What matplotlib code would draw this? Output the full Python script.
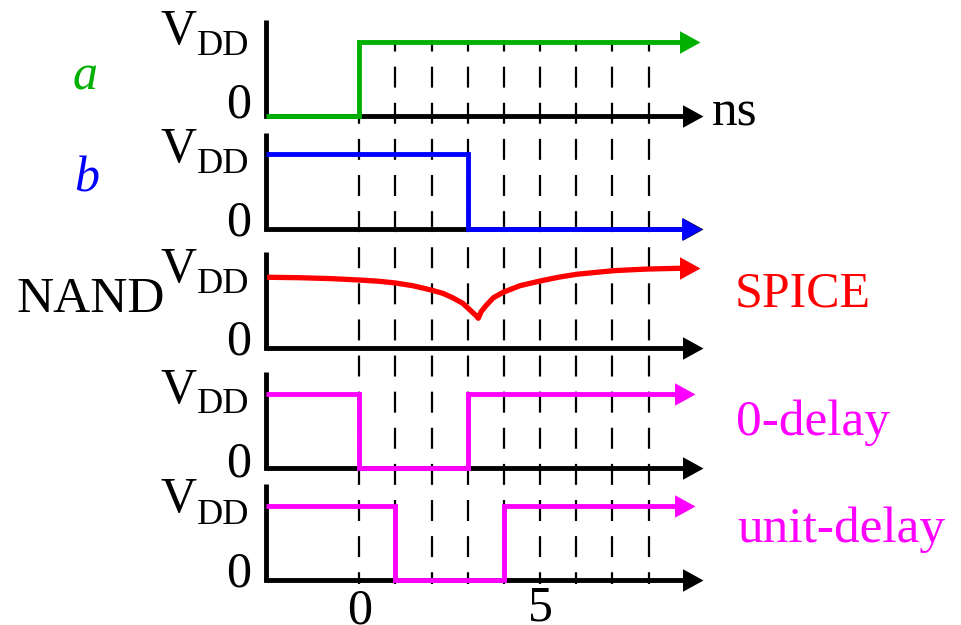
import matplotlib
matplotlib.use('Agg')
import matplotlib.pyplot as plt
from matplotlib.path import Path

plt.rcParams['font.family'] = ['Liberation Serif', 'DejaVu Serif']
plt.rcParams['lines.scale_dashes'] = False

# ---------------- data ----------------
grid_times = [0, 1, 2, 3, 4, 5, 6, 7, 8]
tick_values = [0, 5]
tick_labels = ['0', '5']
T_START = -2.59

a_switch = [0.0]
a_levels = [0, 1]
b_switch = [3.0]
b_levels = [1, 0]
zero_delay_switch = [0.0, 3.0]
zero_delay_levels = [1, 0, 1]
unit_delay_switch = [1.0, 4.0]
unit_delay_levels = [1, 0, 1]

spice_t = [-2.55, -1.66, -0.74, 0.0, 0.55, 1.0, 1.48, 1.98, 2.31, 2.58, 2.86,
           3.04, 3.23, 3.29, 3.37, 3.52, 3.71, 3.98, 4.44, 5.0, 5.55, 6.01,
           6.57, 7.02, 7.58, 7.99, 8.87, 9.42]
spice_v = [0.948, 0.942, 0.929, 0.911, 0.894, 0.871, 0.834, 0.777, 0.732, 0.673,
           0.598, 0.517, 0.431, 0.396, 0.485, 0.575, 0.673, 0.746, 0.834, 0.898,
           0.952, 0.988, 1.015, 1.036, 1.050, 1.059, 1.069, 1.069]

GREEN = '#00b000'
BLUE = '#0000ff'
RED = '#ff0000'
MAGENTA = '#ff00ff'

# ---------------- layout helpers ----------------
W, H = 961, 625
fig = plt.figure(figsize=(W / 100, H / 100), dpi=100)
fig.patch.set_facecolor('white')

PX_PER_NS = 36.16
X0_PX = 359.3
PX_PER_V = 74.3
Y_TOP = 1.29
X_MAX = 9.7

def fx(px):
    return px / W

def fy(py):
    return 1 - py / H

x_left_px = X0_PX + T_START * PX_PER_NS
x_right_px = X0_PX + X_MAX * PX_PER_NS
ax_w = (x_right_px - x_left_px) / W

HEAD = Path([(0, 0), (-1, 0.55), (-1, -0.55), (0, 0)], closed=True)
HEAD_MS = 29.5
LW = 3.5
BACK = 0.3

# dashed time grid (below everything)
ax_g = fig.add_axes([fx(x_left_px), fy(584), ax_w, (584 - 40) / H])
ax_g.set_xlim(T_START, X_MAX)
ax_g.set_ylim(0, 1)
ax_g.axis('off')
ax_g.patch.set_alpha(0)
for t in grid_times:
    ax_g.plot([t, t], [1, 0], color='black', lw=1.6,
              linestyle=(6.8, (15.1, 10.9)), solid_capstyle='butt')

panel_axis_y = [116, 228.7, 347.7, 468.3, 580]
axis_tip = 9.5

axes = []
for ay in panel_axis_y:
    ax = fig.add_axes([fx(x_left_px), fy(ay), ax_w, Y_TOP * PX_PER_V / H])
    ax.set_xlim(T_START, X_MAX)
    ax.set_ylim(0, Y_TOP)
    ax.axis('off')
    ax.patch.set_alpha(0)
    ax.plot([T_START, T_START], [0, Y_TOP], color='black', lw=LW,
            solid_capstyle='butt', clip_on=False)
    ax.plot([T_START, axis_tip - BACK], [0, 0], color='black', lw=LW,
            solid_capstyle='projecting', clip_on=False)
    ax.plot([axis_tip], [0], marker=HEAD, ms=HEAD_MS, color='black', mew=0,
            clip_on=False)
    axes.append(ax)


def draw_step(ax, switches, levels, tip, color):
    xs = [T_START] + list(switches) + [tip - BACK]
    ys = list(levels) + [levels[-1]]
    ax.plot(xs, ys, drawstyle='steps-post', color=color, lw=LW,
            solid_joinstyle='miter', solid_capstyle='butt', clip_on=False,
            zorder=3)
    ax.plot([tip], [levels[-1]], marker=HEAD, ms=HEAD_MS, color=color,
            mew=0, clip_on=False, zorder=3)


draw_step(axes[0], a_switch, a_levels, 9.42, GREEN)
draw_step(axes[1], b_switch, b_levels, 9.47, BLUE)
axes[2].plot(spice_t[:-1] + [spice_t[-1] - BACK], spice_v, color=RED, lw=3.8,
             solid_joinstyle='round', solid_capstyle='butt', clip_on=False,
             zorder=3)
axes[2].plot([spice_t[-1]], [spice_v[-1]], marker=HEAD, ms=HEAD_MS, color=RED,
             mew=0, clip_on=False, zorder=3)
draw_step(axes[3], zero_delay_switch, zero_delay_levels, 9.28, MAGENTA)
draw_step(axes[4], unit_delay_switch, unit_delay_levels, 9.28, MAGENTA)

# y-axis labels VDD / 0
label_rows = [(44, 55, 118), (161.7, 173.3, 235), (281.7, 293.3, 355),
              (403.3, 413.3, 476.7), (511.7, 524, 586.7)]
for vb, db, zb in label_rows:
    fig.text(fx(196.5), fy(vb), 'V', fontsize=36, ha='right', va='baseline')
    fig.text(fx(197), fy(db), 'DD', fontsize=26, ha='left', va='baseline')
    fig.text(fx(251), fy(zb), '0', fontsize=36, ha='right', va='baseline')

# signal names
fig.text(fx(85), fy(90), 'a', fontsize=36, style='italic', color=GREEN,
         ha='center', va='baseline')
fig.text(fx(86.7), fy(191.7), 'b', fontsize=36, style='italic', color=BLUE,
         ha='center', va='baseline')
fig.text(fx(17), fy(311.7), 'NAND', fontsize=37, ha='left', va='baseline')
fig.text(fx(712), fy(125), 'ns', fontsize=37, ha='left', va='baseline')
fig.text(fx(735), fy(306.7), 'SPICE', fontsize=36, color=RED, ha='left',
         va='baseline')
fig.text(fx(736), fy(435), '0-delay', fontsize=37, color=MAGENTA, ha='left',
         va='baseline')
fig.text(fx(737), fy(541.7), 'unit-delay', fontsize=37, color=MAGENTA,
         ha='left', va='baseline')

# time tick labels under the bottom panel
tick_baselines = {0: -0.585, 5: -0.545}
for v, lab in zip(tick_values, tick_labels):
    axes[4].text(v, tick_baselines[v], lab, fontsize=36, ha='center',
                 va='baseline', clip_on=False)

fig.savefig('out.png', dpi=100, facecolor='white')
